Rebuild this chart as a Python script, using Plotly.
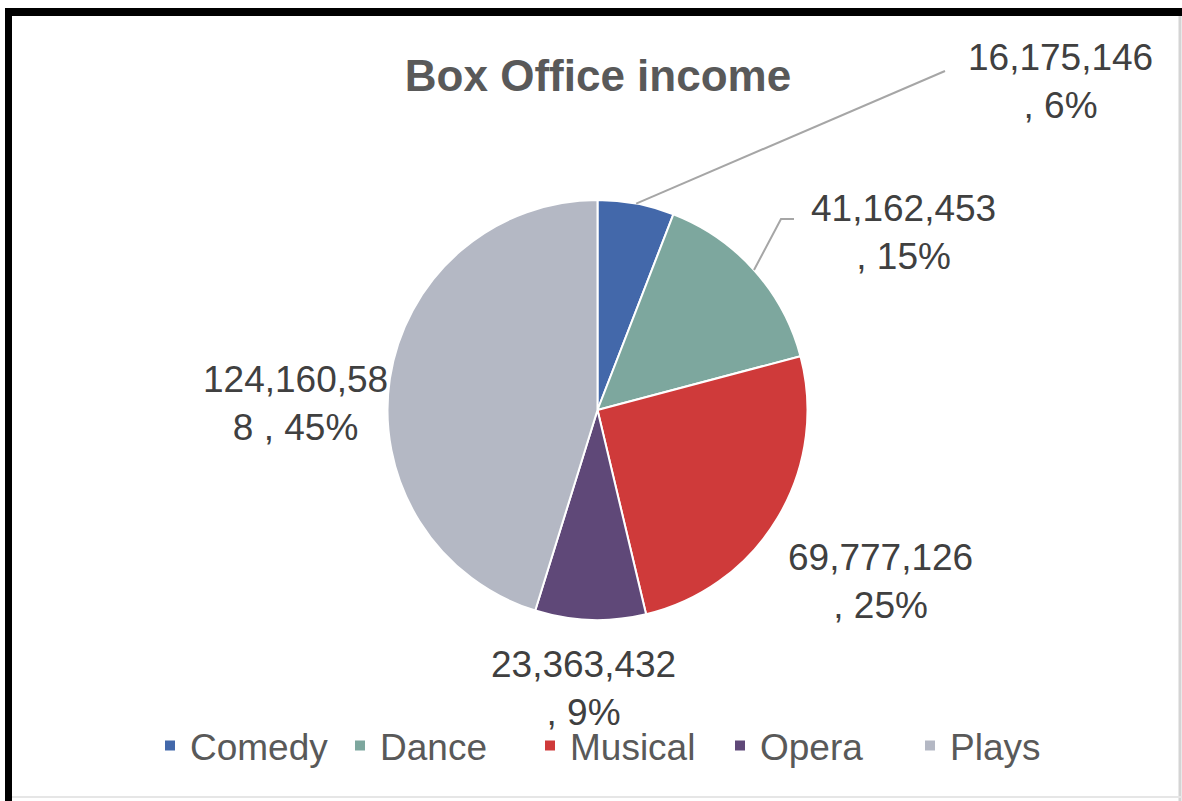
import math
import plotly.graph_objects as go

# Box office income by genre
categories = ["Comedy", "Dance", "Musical", "Opera", "Plays"]
income = [16175146, 41162453, 69777126, 23363432, 124160588]
colors = ["#4368AA", "#7DA79E", "#CF3A3A", "#5F4878", "#B4B8C4"]

W, H = 1182, 801
CX, CY, R = 597.5, 410, 210          # pie centre / radius in pixels

# label block centres (pixels)
label_pos = [(1060, 81), (903, 232), (880, 581), (583, 688), (295, 403)]


def px(x):
    return x / W


def py(y):
    return 1 - y / H


total = sum(income)


def label_text(v):
    pct = round(v / total * 100)
    full = f"{v:,} , {pct}%"
    # wrap the way the chart's label box does: 10 characters per line
    return full[:10] + "<br>" + full[10:].strip()


def edge_point(i):
    start = sum(income[:i]) / total
    mid = (start + income[i] / total / 2) * 2 * math.pi
    return CX + R * math.sin(mid), CY - R * math.cos(mid)


fig = go.Figure(
    go.Pie(
        labels=categories,
        values=income,
        sort=False,
        direction="clockwise",
        rotation=0,
        textinfo="none",
        hoverinfo="skip",
        marker=dict(colors=colors, line=dict(color="white", width=2)),
        domain=dict(x=[px(CX - R), px(CX + R)], y=[py(CY + R), py(CY - R)]),
    )
)

annotations = []
for v, (x, y) in zip(income, label_pos):
    annotations.append(
        dict(
            x=px(x), y=py(y), xref="paper", yref="paper",
            text=label_text(v), showarrow=False,
            xanchor="center", yanchor="middle", align="center",
            font=dict(family="Liberation Sans, Arial, sans-serif", size=37, color="#404040"),
        )
    )

shapes = []
# leader lines for the two small slices
x0, y0 = edge_point(0)
shapes.append(dict(type="line", xref="paper", yref="paper",
                   x0=px(x0), y0=py(y0), x1=px(945), y1=py(71),
                   line=dict(color="#A6A6A6", width=2)))
x0, y0 = edge_point(1)
shapes.append(dict(type="path", xref="paper", yref="paper",
                   path=f"M{px(x0)},{py(y0)} L{px(781)},{py(219)} L{px(794)},{py(219)}",
                   line=dict(color="#A6A6A6", width=2)))
# frame
shapes += [
    dict(type="rect", xref="paper", yref="paper", x0=px(5), x1=px(1182), y0=py(8), y1=py(16),
         fillcolor="black", line=dict(width=0), layer="above"),
    dict(type="rect", xref="paper", yref="paper", x0=px(5), x1=px(12), y0=py(8), y1=py(801),
         fillcolor="black", line=dict(width=0), layer="above"),
    dict(type="line", xref="paper", yref="paper", x0=px(1180), x1=px(1180), y0=py(16), y1=py(801),
         line=dict(color="#D4D4D4", width=3)),
    dict(type="line", xref="paper", yref="paper", x0=px(12), x1=px(1182), y0=py(797), y1=py(797),
         line=dict(color="#E6E6E6", width=2)),
]

fig.update_layout(
    width=W, height=H,
    margin=dict(l=0, r=0, t=0, b=0),
    paper_bgcolor="white",
    title=dict(
        text="<b>Box Office income</b>",
        x=px(598), y=py(76), xanchor="center", yanchor="middle",
        font=dict(family="Liberation Sans, Arial, sans-serif", size=44, color="#595959"),
    ),
    showlegend=True,
    legend=dict(
        orientation="h",
        x=px(150), xanchor="left",
        y=py(746), yanchor="middle",
        entrywidth=145, entrywidthmode="pixels",
        font=dict(family="Liberation Sans, Arial, sans-serif", size=37, color="#595959"),
        bgcolor="rgba(0,0,0,0)",
    ),
    annotations=annotations,
    shapes=shapes,
)

fig.write_html("out.html")
